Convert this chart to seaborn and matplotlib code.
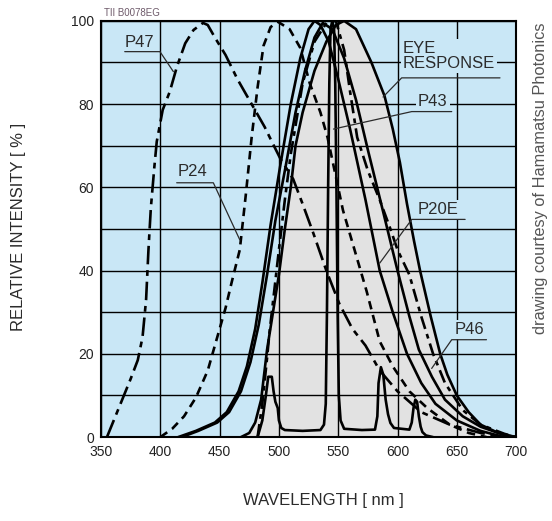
import matplotlib
matplotlib.use("Agg")
import matplotlib.pyplot as plt
from matplotlib.ticker import MultipleLocator
import seaborn as sns

# spectra: wavelength [nm], relative intensity [%]
p47_nm = [355, 360, 365, 370, 375, 381, 385, 388, 390, 392, 395, 397, 402, 408, 414, 421, 428, 436, 440,
          446, 455, 465, 475, 488, 494, 501, 512, 520, 529, 540, 551, 562, 573, 585, 600, 620, 644, 670, 690]
p47_pct = [0, 3.5, 7, 10.5, 14, 18.5, 24, 33, 45, 55, 65, 71, 78.6, 83, 89, 94.6, 97.8, 99.5, 99,
           96, 91.8, 86, 81, 74.5, 71, 67, 62, 56, 49, 40, 32, 26, 22, 16, 11, 6, 3, 1, 0]

p24_nm = [400, 410, 420, 430, 440, 448, 455, 460, 467, 472, 477, 482, 487, 493, 499, 509, 518, 526,
          535, 541, 554, 574, 585, 596, 610, 625, 644, 660, 675]
p24_pct = [0, 2, 5, 9.5, 16, 24, 31, 37, 45, 58, 72, 84, 94, 98.5, 99.8, 98, 93.5, 85,
           78, 72, 54.5, 35, 23, 17, 11, 7, 3, 1, 0]

p20e_nm = [415, 430, 446, 456, 466, 473, 480, 486, 493, 501, 510, 518, 525, 530, 535, 542, 550, 560,
           573, 585, 596, 608, 620, 632, 650, 670, 690]
p20e_pct = [0, 1.5, 3.5, 6, 11, 17, 26, 37, 51, 65, 80, 91, 98, 100, 99, 95, 86, 74,
            57, 40, 30, 20, 13, 8, 4, 1.5, 0]

p46_nm = [418, 432, 448, 458, 468, 476, 483, 490, 497, 505, 514, 522, 530, 537, 545, 555, 565, 575,
          588, 600, 610, 618, 629, 640, 655, 670, 690, 700]
p46_pct = [0, 1.5, 3.5, 6, 11, 18, 27, 39, 52, 64, 78, 88, 96, 99.5, 98, 91, 81, 69,
           54, 40, 29, 21, 14.5, 9, 5, 2.5, 0.5, 0]

dd_nm = [482, 486, 490, 492, 496, 500, 505, 510, 520, 530, 540, 548, 555, 560, 566, 575, 585, 594,
         600, 610, 620, 630, 640, 655, 670, 690, 700]
dd_pct = [0, 8, 19, 25, 35, 45, 57, 68, 85, 95, 99.5, 100, 93, 83, 72, 64, 57, 50,
          45, 39, 29, 20, 13, 6.5, 3, 0.8, 0]

eye_nm = [468, 475, 480, 485, 490, 495, 500, 505, 510, 514, 520, 530, 540, 548, 555, 565, 578, 589,
          596, 602, 608, 614, 619, 628, 636, 642, 650, 660, 670, 685, 700]
eye_pct = [0, 1, 3.5, 9, 21, 30, 39, 50, 60, 70, 78, 88, 95, 99, 100, 98, 90, 82,
           74, 66, 56, 47, 40, 29, 20, 15, 10, 6, 3, 1, 0]

p43_nm = [482, 486, 489, 491, 494, 495.5, 497, 499, 500, 502, 505, 520, 535, 538, 539.5, 540.5, 541.5,
          542.5, 543.5, 545, 546.5, 547.5, 548.5, 549.5, 550.5, 552, 555, 570, 581, 583, 584, 586,
          588, 590, 592, 594, 597, 610, 612, 613.5, 615, 616.5, 618, 619.5, 621, 624, 630]
p43_pct = [0, 4, 10, 14.5, 14.5, 11, 8.5, 7, 4, 2.2, 1.7, 1.5, 1.7, 3, 8, 30, 60,
           85, 98, 100, 98, 85, 60, 30, 10, 4, 2, 1.7, 1.8, 5, 13, 16.8,
           15, 9, 5.5, 3.4, 2.2, 1.8, 3.5, 7, 9, 8.5, 5, 2.5, 1.2, 0.4, 0]

x_ticks = [350, 400, 450, 500, 550, 600, 650, 700]
y_ticks = [0, 20, 40, 60, 80, 100]

BLUE = "#c9e7f6"
GREY = "#e2e2e2"
INK = "#2b2b2b"

sns.set_style("white")
plt.rcParams["font.family"] = ["Liberation Sans", "DejaVu Sans"]

fig = plt.figure(figsize=(5.52, 5.21), dpi=100)
ax = fig.add_axes([0.183, 0.161, 0.752, 0.799])
ax.set_facecolor(BLUE)

ax.fill_between(eye_nm, eye_pct, 0, color=GREY, lw=0, zorder=0.3)

lw = 1.9
curves = [
    (p47_nm, p47_pct, (0, (7, 2.2, 2.2, 2.2))),
    (p24_nm, p24_pct, (0, (3.2, 2.2))),
    (p20e_nm, p20e_pct, "-"),
    (p46_nm, p46_pct, "-"),
    (dd_nm, dd_pct, (0, (5, 2.0, 1.8, 2.0))),
    (eye_nm, eye_pct, "-"),
    (p43_nm, p43_pct, "-"),
]
for xs, ys, ls in curves:
    sns.lineplot(x=xs, y=ys, ax=ax, color="black", lw=lw, linestyle=ls,
                 estimator=None, sort=False, zorder=3)

ax.set_xlim(350, 700)
ax.set_ylim(0, 100)
ax.set_xticks(x_ticks)
ax.set_yticks(y_ticks)
ax.yaxis.set_minor_locator(MultipleLocator(10))
ax.set_axisbelow("line")
ax.grid(True, which="major", color="black", lw=1.0, zorder=1.5)
ax.grid(True, which="minor", axis="y", color="black", lw=1.0, zorder=1.5)
ax.tick_params(axis="both", which="both", length=0, labelsize=10, colors="#222222")
ax.tick_params(axis="y", pad=5)
ax.tick_params(axis="x", pad=5.5)
for sp in ax.spines.values():
    sp.set_color("black")
    sp.set_linewidth(1.5)
ax.set_xlabel("")
ax.set_ylabel("")

# labels with underline and leader line
labels = [
    ("P47", 370.2, 94.8, [(370, 92.6), (399.7, 92.6), (411, 87.8)]),
    ("P24", 415.0, 63.8, [(413.8, 61.1), (444.7, 61.1), (467, 47.4)]),
    ("EYE\nRESPONSE", 604.6, 91.6, [(686.4, 86.3), (603.5, 86.3), (587.8, 81.7)]),
    ("P43", 617.3, 80.6, [(645.7, 78.2), (612, 78.2), (546, 74)]),
    ("P20E", 617.0, 54.7, [(657, 52.3), (612, 52.3), (585, 41.8)]),
    ("P46", 648.5, 25.8, [(675, 23.4), (645.7, 23.4), (628.8, 16.5)]),
]
for txt, tx, ty, path in labels:
    ax.text(tx, ty, txt, ha="left", va="center", fontsize=12, color=INK,
            linespacing=1.0, zorder=4,
            bbox=dict(boxstyle="square,pad=0.12", fc=BLUE, ec="none"))
    ax.plot([p[0] for p in path], [p[1] for p in path], color=INK, lw=0.9, zorder=4)

fig.text(0.188, 0.975, "TII B0078EG", fontsize=7, color="#6e5a6a", ha="left", va="center")
fig.text(0.033, 0.565, "RELATIVE INTENSITY [ % ]", rotation=90, fontsize=12,
         ha="center", va="center", color=INK)
fig.text(0.585, 0.040, "WAVELENGTH [ nm ]", fontsize=12, ha="center", va="center", color=INK)
fig.text(0.980, 0.658, "drawing courtesy of Hamamatsu Photonics", rotation=90, fontsize=11.8,
         ha="center", va="center", color="#555555")

fig.savefig("out.png", dpi=100)
